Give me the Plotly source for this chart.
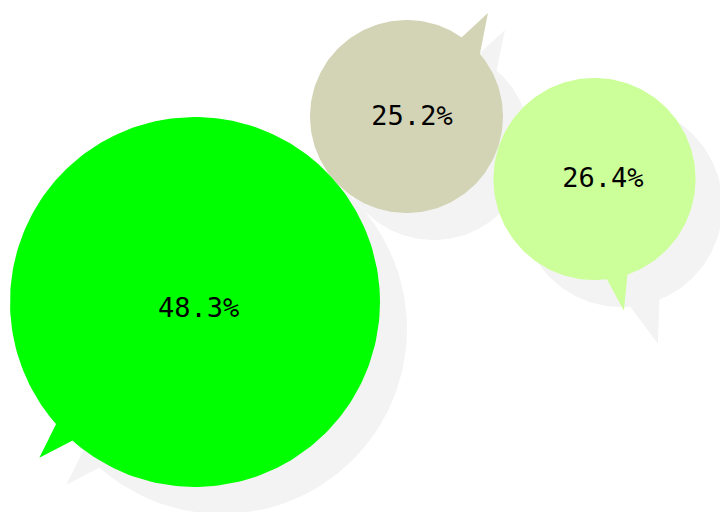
import numpy as np
import plotly.graph_objects as go

# Shares shown as speech bubbles (radius proportional to value)
values = [48.3, 25.2, 26.4]
colors = ["#00ff00", "#d3d3b5", "#ccff99"]
labels = [f"{v:.1f}%" for v in values]

# Bubble placement in pixel space (x right, y down)
centres = [(195.0, 302.0), (406.5, 116.5), (594.5, 179.0)]
# Label nudge from the bubble centre
label_offsets = [(3.7, 8.0), (5.5, 2.0), (8.3, 1.3)]
# Tail: angles (deg, screen coords) where tail edges meet the circle, tip angle, tip reach (x radius)
tails = [
    dict(edge=(131.5, 138.7), tip=135.0, reach=1.19),
    dict(edge=(-55.1, -40.5), tip=-51.8, reach=1.365),
    dict(edge=(71.0, 82.9), tip=77.4, reach=1.335),
]
shadow_tails = [
    dict(edge=(131.5, 138.7), tip=135.0, reach=1.19),
    dict(edge=(-64.0, -49.2), tip=-57.8, reach=1.39),
    dict(edge=(68.0, 85.0), tip=75.2, reach=1.41),
]
RADIUS_PER_UNIT = 3.83
SHADOW = (27, 27)
SHADOW_COLOR = "#f3f3f3"
W, H = 720, 512


def circle_pts(cx, cy, r, n=240):
    t = np.linspace(0, 2 * np.pi, n)
    return cx + r * np.cos(t), cy + r * np.sin(t)


def tail_pts(cx, cy, r, tail):
    a = np.deg2rad(tail["tip"])
    tip = np.array([cx + r * tail["reach"] * np.cos(a), cy + r * tail["reach"] * np.sin(a)])
    pts = [tip]
    for e in tail["edge"]:
        b = np.deg2rad(e)
        p = np.array([cx + r * np.cos(b), cy + r * np.sin(b)])
        pts.append(p + (p - tip) * 0.4)
    pts.append(tip)
    pts = np.array(pts)
    return pts[:, 0], pts[:, 1]


def bubble_shapes(i, tail, dx=0.0, dy=0.0):
    cx, cy = centres[i]
    cx, cy = cx + dx, cy + dy
    r = values[i] * RADIUS_PER_UNIT
    return [circle_pts(cx, cy, r), tail_pts(cx, cy, r, tail)]


fig = go.Figure()


def add_poly(xs, ys, color):
    fig.add_trace(go.Scatter(
        x=xs, y=ys, mode="lines", fill="toself", fillcolor=color,
        line=dict(width=0, color=color), hoverinfo="skip", showlegend=False,
    ))


# drop shadows first, then the bubbles on top
for i in range(len(values)):
    for xs, ys in bubble_shapes(i, shadow_tails[i], *SHADOW):
        add_poly(xs, ys, SHADOW_COLOR)
for i in range(len(values)):
    for xs, ys in bubble_shapes(i, tails[i]):
        add_poly(xs, ys, colors[i])

fig.add_trace(go.Scatter(
    x=[c[0] + o[0] for c, o in zip(centres, label_offsets)],
    y=[c[1] + o[1] for c, o in zip(centres, label_offsets)],
    mode="text", text=labels, textposition="middle center",
    textfont=dict(family="DejaVu Sans Mono", size=27, color="#000000"),
    hoverinfo="skip", showlegend=False,
))

fig.update_layout(
    width=W, height=H, margin=dict(l=0, r=0, t=0, b=0),
    paper_bgcolor="#ffffff", plot_bgcolor="#ffffff",
    xaxis=dict(range=[0, W], visible=False, fixedrange=True),
    yaxis=dict(range=[H, 0], visible=False, fixedrange=True),
)

fig.write_html("out.html")
